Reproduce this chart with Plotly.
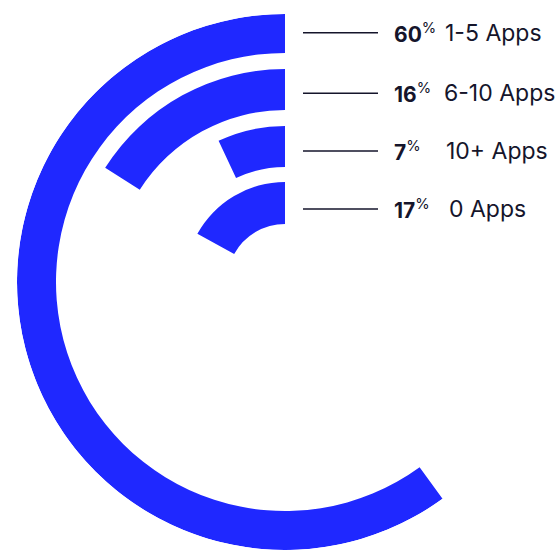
import plotly.graph_objects as go

# Data
categories = ["1-5 Apps", "6-10 Apps", "10+ Apps", "0 Apps"]
percents = [60, 16, 7, 17]

# Styling (ring geometry, in radial-axis units)
ring_base = [229, 172, 115, 58]
ring_thick = [39, 41, 41, 42]
BLUE = "#1f28ff"
TEXT = "#15152b"
W, H = 558, 550
CX, CY, R = 285, 282, 268  # pixel centre / radius of polar area

fig = go.Figure()
for cat, p, b, t in zip(categories, percents, ring_base, ring_thick):
    fig.add_trace(go.Barpolar(
        r=[t], base=[b], theta=[p * 3.6 / 2], width=[p * 3.6],
        marker=dict(color=BLUE, line=dict(width=0)),
        name=cat, hoverinfo="skip",
    ))

fig.update_layout(
    width=W, height=H, margin=dict(l=0, r=0, t=0, b=0),
    paper_bgcolor="white", showlegend=False,
    polar=dict(
        domain=dict(x=[(CX - R) / W, (CX + R) / W], y=[(H - CY - R) / H, (H - CY + R) / H]),
        bgcolor="rgba(0,0,0,0)",
        radialaxis=dict(range=[0, R], visible=False, showgrid=False),
        angularaxis=dict(visible=False, rotation=90, direction="counterclockwise", showgrid=False),
        barmode="overlay",
    ),
)

line_y = [32.7, 93.3, 151, 209]
label_x = [443, 442, 444, 447]
for cat, p, ly, lx in zip(categories, percents, line_y, label_x):
    yp = 1 - ly / H
    fig.add_shape(type="line", xref="paper", yref="paper",
                  x0=303 / W, x1=378 / W, y0=yp, y1=yp,
                  line=dict(color=TEXT, width=1.6))
    fig.add_annotation(xref="paper", yref="paper", x=392 / W, y=yp,
                       xanchor="left", yanchor="middle", showarrow=False,
                       text=f"<b>{p}</b><sup>%</sup>",
                       font=dict(family="Inter", size=21, color=TEXT))
    fig.add_annotation(xref="paper", yref="paper", x=lx / W, y=yp,
                       xanchor="left", yanchor="middle", showarrow=False,
                       text=cat,
                       font=dict(family="Inter", size=23, color=TEXT))

fig.write_html("out.html")
